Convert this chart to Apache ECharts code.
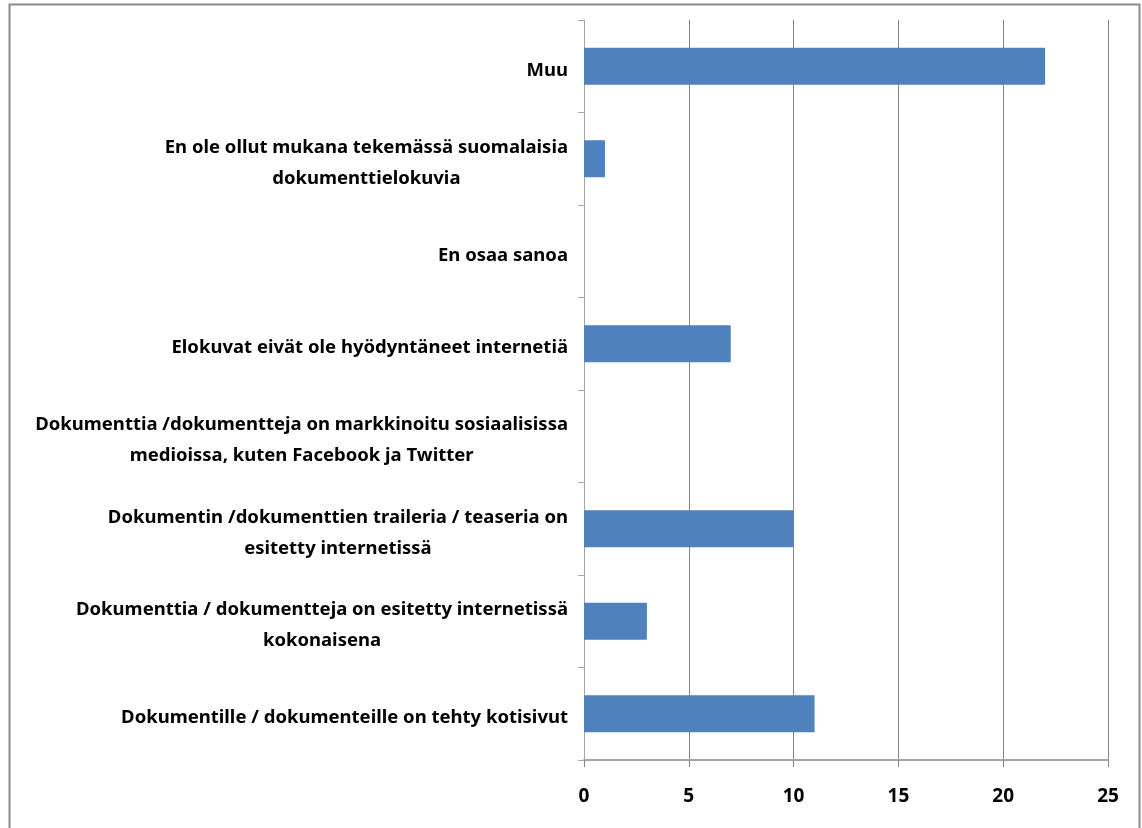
<!DOCTYPE html>
<html>
<head>
<meta charset="utf-8">
<script src="https://cdn.jsdelivr.net/npm/echarts@6/dist/echarts.min.js"></script>
<style>html,body{margin:0;padding:0;background:#fff;}#c{width:1142px;height:828px;}</style>
</head>
<body>
<div id="c"></div>
<script>
// bottom-to-top order (category axis starts at the bottom)
const categories = [
  "Dokumentille / dokumenteille on tehty kotisivut",
  "Dokumenttia / dokumentteja on esitetty internetissä\nkokonaisena",
  "Dokumentin /dokumenttien traileria / teaseria on\nesitetty internetissä",
  "Dokumenttia /dokumentteja on markkinoitu sosiaalisissa\nmedioissa, kuten Facebook ja Twitter",
  "Elokuvat eivät ole hyödyntäneet internetiä",
  "En osaa sanoa",
  "En ole ollut mukana tekemässä suomalaisia\ndokumenttielokuvia",
  "Muu"
];
const values = [11, 3, 10, 0, 7, 0, 1, 22];
const xTicks = [0, 5, 10, 15, 20, 25];

const FONT = '"Noto Sans", "DejaVu Sans", sans-serif';
const chart = echarts.init(document.getElementById('c'));
chart.setOption({
  animation: false,
  backgroundColor: '#fff',
  graphic: [{
    type: 'rect', shape: {x: 9.5, y: 4.5, width: 1130, height: 840},
    style: {fill: 'none', stroke: '#8a8a8a', lineWidth: 2}, silent: true
  }],
  grid: {left: 584, right: 34, top: 20, bottom: 68, containLabel: false},
  xAxis: {
    type: 'value', min: xTicks[0], max: xTicks[xTicks.length - 1], interval: 5,
    axisLine: {show: true, lineStyle: {color: '#a6a6a6', width: 2}},
    axisTick: {show: true, length: 7, lineStyle: {color: '#868686'}},
    splitLine: {show: true, lineStyle: {color: '#868686', width: 1}},
    axisLabel: {
      margin: 27, color: '#000', fontFamily: FONT, fontWeight: 'bold', fontSize: 19,
      formatter: v => xTicks.includes(v) ? String(v) : ''
    }
  },
  yAxis: {
    type: 'category', data: categories,
    axisLine: {show: true, lineStyle: {color: '#a6a6a6', width: 1}},
    axisTick: {show: true, length: 6, lineStyle: {color: '#a6a6a6'}},
    axisLabel: {
      margin: 16, color: '#000', fontFamily: FONT, fontWeight: 'bold', fontSize: 18.5,
      lineHeight: 31, align: 'right', padding: [8, 0, 0, 0],
      formatter: v => v.split('\n').map(s => '{c|' + s + '}').join('\n'),
      rich: {c: {align: 'center', fontFamily: FONT, fontWeight: 'bold', fontSize: 18.5, lineHeight: 31, color: '#000'}}
    }
  },
  series: [{
    type: 'bar', data: values, barWidth: '40%',
    itemStyle: {color: '#4f81bd'}
  }]
});
</script>
</body>
</html>
